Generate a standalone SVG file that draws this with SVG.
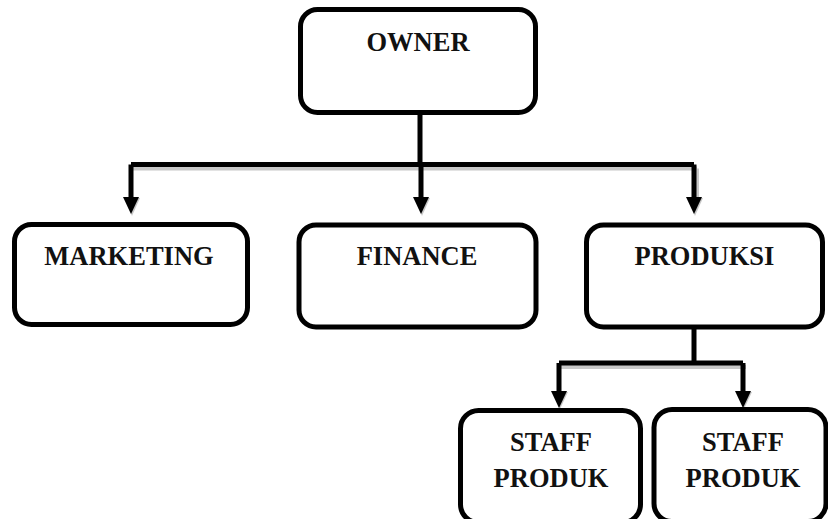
<svg xmlns="http://www.w3.org/2000/svg" width="828" height="519" viewBox="0 0 828 519">
<style>
.box{fill:#fff;stroke:#000;stroke-width:5}
.t{font-family:"Liberation Serif","Times New Roman",serif;font-weight:bold;font-size:26.5px;fill:#111;text-anchor:middle}
.ln{fill:none;stroke:#000;stroke-width:5}
.sh{fill:none;stroke:#c8c8c8;stroke-width:4}
.ah{fill:#000}
.ahs{fill:#c8c8c8}
</style>
<rect width="828" height="519" fill="#fff"/>
<g id="connectors">
<path class="sh" d="M133,168.5 H697 M697,168.5 V200 M561,367 H746"/>
<path class="ln" d="M420,113 V164.5 M131,164.5 H694 M131,164.5 V199 M421,164.5 V199 M694,164.5 V199"/>
<polygon class="ahs" points="124,198 140,198 132,216"/>
<polygon class="ahs" points="414,198 430,198 422,216"/>
<polygon class="ahs" points="687,198 703,198 695,216"/>
<polygon class="ah" points="123,197 139,197 131,214"/>
<polygon class="ah" points="413,197 429,197 421,214"/>
<polygon class="ah" points="686,197 702,197 694,214"/>
<path class="ln" d="M694,329 V363 M559,363 H743 M559,363 V393 M743,363 V393"/>
<polygon class="ahs" points="552,392 568,392 560,409"/>
<polygon class="ahs" points="736,392 752,392 744,409"/>
<polygon class="ah" points="551,391 567,391 559,408"/>
<polygon class="ah" points="735,391 751,391 743,408"/>
</g>
<g id="owner">
<rect class="box" x="300.5" y="9.5" width="235" height="103" rx="17"/>
<text class="t" x="418" y="51">OWNER</text>
</g>
<g id="marketing">
<rect class="box" x="14.5" y="224.5" width="233" height="100" rx="17"/>
<text class="t" x="129" y="265">MARKETING</text>
</g>
<g id="finance">
<rect class="box" x="299" y="225" width="237" height="102" rx="17"/>
<text class="t" x="417" y="265">FINANCE</text>
</g>
<g id="produksi">
<rect class="box" x="586.5" y="225" width="236" height="102" rx="17"/>
<text class="t" x="704.5" y="265">PRODUKSI</text>
</g>
<g id="staff1">
<rect class="box" x="460.5" y="410.5" width="180" height="112" rx="18"/>
<text class="t" x="551" y="451">STAFF</text>
<text class="t" x="551" y="487">PRODUK</text>
</g>
<g id="staff2">
<rect class="box" x="654" y="409.5" width="172" height="112" rx="18"/>
<text class="t" x="743" y="451">STAFF</text>
<text class="t" x="743" y="487">PRODUK</text>
</g>
</svg>
